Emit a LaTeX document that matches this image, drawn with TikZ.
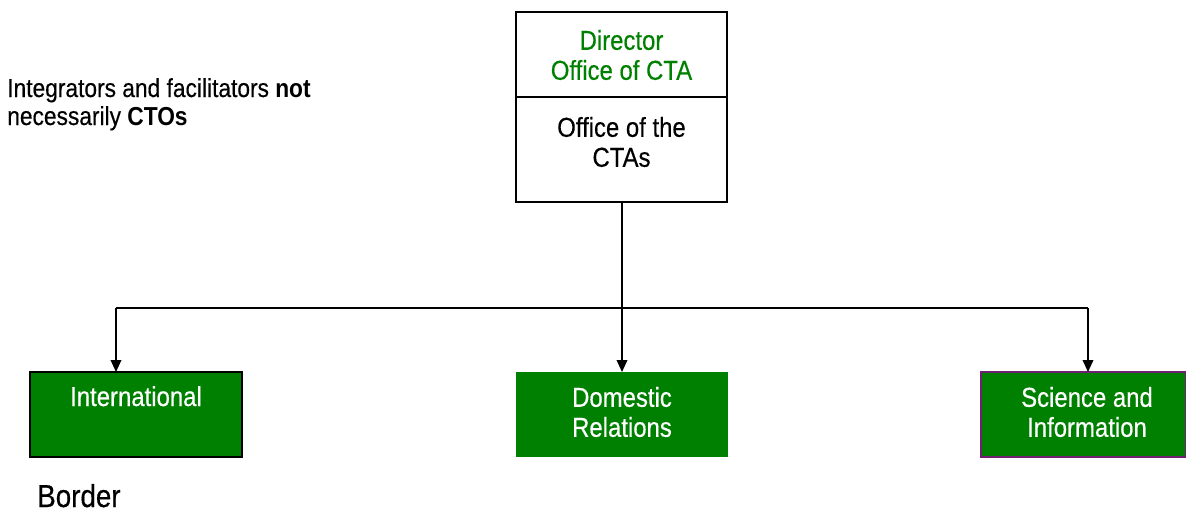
\documentclass[tikz,border=0pt]{standalone}
\usepackage{fontspec}
\setmainfont{Liberation Sans}[FakeStretch=0.875, UprightFeatures={FakeBold=0.4}]
\usetikzlibrary{arrows.meta}
\definecolor{dgreen}{RGB}{0,128,0}
\definecolor{dpurple}{RGB}{112,32,112}
\begin{document}
\begin{tikzpicture}[x=0.75pt,y=-0.75pt,
  boxtxt/.style={font=\fontsize{20.5}{22.5}\selectfont, align=center, inner sep=0pt},
  gbox/.style={fill=dgreen, line width=1.2pt},
  conn/.style={line width=1.1pt, -{Triangle[length=9pt,width=8pt]}},
  plain/.style={line width=1.1pt}]
\useasboundingbox (0,0) rectangle (1186,512);
% top box
\draw[line width=1.1pt] (516,12) rectangle (727,202);
\draw[line width=1.1pt] (516,97) -- (727,97);
\node[boxtxt, text=dgreen, anchor=center] (dir) at (621.5,55) {Director\\Office of CTA};
\node[boxtxt, anchor=center] (off) at (621.5,142) {Office of the\\CTAs};
\coordinate (top) at (622,202);
% bottom boxes
\draw[gbox, draw=black] (30,372) rectangle (242,457);
\node[boxtxt, text=white, anchor=base] (intl) at (136,406) {International};
\fill[dgreen] (516,372) rectangle (728,457);
\node[boxtxt, text=white, anchor=center] (dom) at (622,412) {Domestic\\Relations};
\draw[gbox, draw=dpurple] (981,372) rectangle (1185.4,457);
\node[boxtxt, text=white, anchor=center] (sci) at (1087,412) {Science and\\Information};
\coordinate (intltop) at (116,372);
\coordinate (domtop) at (622,372);
\coordinate (scitop) at (1088,372);
\coordinate (jl) at (116,308);
\coordinate (jr) at (1088,308);
\draw[conn] (top) -- (domtop);
\draw[plain] (jl) -- (jr);
\draw[conn] (jl) -- (intltop);
\draw[conn] (jr) -- (scitop);
% notes
\node[font=\fontsize{19.5}{21}\selectfont, align=left, anchor=base west, inner sep=0pt] (note) at (7,125) {Integrators and facilitators \textbf{not}\\necessarily \textbf{CTOs}};
\node[font=\fontsize{23.8}{26}\selectfont, anchor=base west, inner sep=0pt] (border) at (37,507) {Border};
\end{tikzpicture}
\end{document}
